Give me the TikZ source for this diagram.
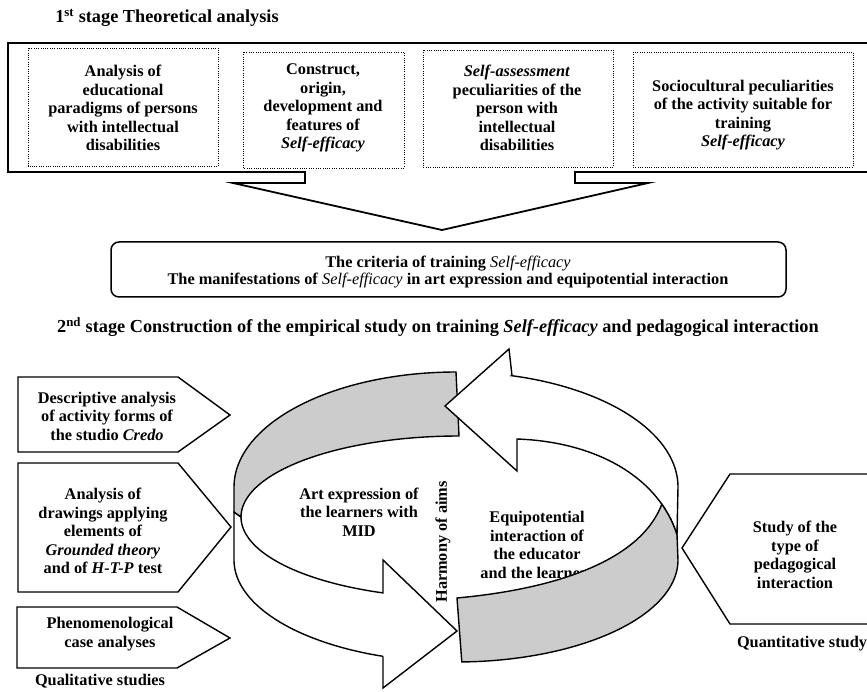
\documentclass[tikz,border=0pt]{standalone}
\usepackage{fontspec}
\setmainfont{Liberation Serif}
\definecolor{bandgray}{HTML}{CCCCCC}
\begin{document}
\begin{tikzpicture}[x=1pt,y=-1pt,
  every node/.style={inner sep=0pt, align=center},
  txt/.style={font=\fontsize{16.3}{18.5}\selectfont\bfseries},
  head/.style={font=\fontsize{18.3}{20}\selectfont\bfseries},
  crit/.style={font=\fontsize{16.3}{17.5}\selectfont\bfseries},
  frame/.style={draw=black, line width=1.8pt, fill=white, line join=miter},
  dotbox/.style={draw=black, line width=0.9pt, dash pattern=on 0.9pt off 1.4pt},
  pent/.style={draw=black, line width=1.4pt, fill=white, line join=miter},
  wband/.style={draw=black, line width=1.4pt, fill=white, line join=miter},
  gband/.style={draw=black, line width=1.4pt, fill=bandgray, line join=miter},
  smp/.style={samples=60, variable=\t}
]
\useasboundingbox (0,0) rectangle (867,692);
\clip (0,0) rectangle (867,692);

% ---------- stage 1 ----------
\node[head] (h1) at (167,18) {1\textsuperscript{st} stage Theoretical analysis};

\draw[frame] (8,43) -- (890,43) -- (890,172) -- (575,172) -- (575,183) -- (648,183)
  -- (442,230) -- (233,183) -- (305,183) -- (305,172) -- (8,172) -- cycle;

\draw[dotbox] (28,48) rectangle (218,166);
\draw[dotbox] (243,52) rectangle (404,168);
\draw[dotbox] (423,50) rectangle (613,167);
\draw[dotbox] (633,52) rectangle (853,167);

\node[txt] (b1) at (123,108) {Analysis of\\educational\\paradigms of persons\\with intellectual\\disabilities};
\node[txt] (b2) at (323,108) {Construct,\\origin,\\development and\\features of\\\textit{Self-efficacy}};
\node[txt] (b3) at (517,108) {\textit{Self-assessment}\\peculiarities of the\\person with\\intellectual\\disabilities};
\node[txt] (b4) at (743,115) {Sociocultural peculiarities\\of the activity suitable for\\training\\\textit{Self-efficacy}};

\draw[draw=black, line width=1.5pt, rounded corners=8pt, fill=white] (111,242) rectangle (786,297);
\node[crit] (crit) at (448,272) {The criteria of training \textmd{\textit{Self-efficacy}}\\The manifestations of \textmd{\textit{Self-efficacy}} in art expression and equipotential interaction};

% ---------- stage 2 ----------
\node[head] (h2) at (438,327) {2\textsuperscript{nd} stage Construction of the empirical study on training \textit{Self-efficacy} and pedagogical interaction};

% left pentagons
\draw[pent] (18,377) -- (178,377) -- (230,415) -- (178,452) -- (18,452) -- cycle;
\draw[pent] (18,463) -- (178,463) -- (231,527) -- (178,592) -- (18,592) -- cycle;
\draw[pent] (17,607) -- (177,607) -- (230,638) -- (177,668) -- (17,668) -- cycle;
\node[txt] (l1) at (107,416) {Descriptive analysis\\of activity forms of\\the studio \textit{Credo}};
\node[txt] (l2) at (103,531) {Analysis of\\drawings applying\\elements of\\\textit{Grounded theory}\\and of \textit{H-T-P} test};
\node[txt] (l3) at (110,634) {Phenomenological\\case analyses};
\node[txt] (q1) at (100,681) {Qualitative studies};

% right pentagon
\draw[pent] (682,548) -- (730,474) -- (890,474) -- (890,624) -- (730,624) -- cycle;
\node[txt] (r1) at (795,555) {Study of the\\type of\\pedagogical\\interaction};
\node[txt] (q2) at (802,644) {Quantitative study};

% ---------- ring ----------
\node[txt] (art) at (359,512) {Art expression of\\the learners with\\MID};
\node[txt] (equ) at (537,545) {Equipotential\\interaction of\\the educator\\and the learners};
\node[txt, rotate=90] (harm) at (443,542) {Harmony of aims};

% front-left white band with lower arrow head
\draw[wband] (241,517)
  -- plot[smp, domain=180:110.4] ({459+218*cos(\t)},{517+81*sin(\t)})
  -- (383,560) -- (457,631) -- (383,688) -- (383,656.3)
  -- plot[smp, domain=109.2:180] ({456+222*cos(\t)},{560+102*sin(\t)})
  -- (234,512) -- cycle;

% back-left gray band
\draw[gband] (456,372)
  -- plot[smp, domain=270:180] ({456+222*cos(\t)},{487+115*sin(\t)})
  -- (234,512) -- (241,517)
  -- plot[smp, domain=180:270] ({459+218*cos(\t)},{517+81*sin(\t)})
  -- cycle;

% upper arrow head + back-right white band
\draw[wband] (445,406) -- (509,349) -- (512,375.7)
  -- plot[smp, domain=-75.4:0] ({456+222*cos(\t)},{487+115*sin(\t)})
  -- (677,535) .. controls (660,480) and (600,442) .. (517,439)
  -- (517,471) -- cycle;

% front-right gray band
\draw[gband] (457,598) .. controls (565,588) and (642,557) .. (661.8,504.2)
  .. controls (668.5,513.7) and (673.6,524) .. (677,535)
  -- (678,560)
  -- plot[smp, domain=0:88.5] ({456+222*cos(\t)},{560+102*sin(\t)})
  -- cycle;
\end{tikzpicture}
\end{document}
